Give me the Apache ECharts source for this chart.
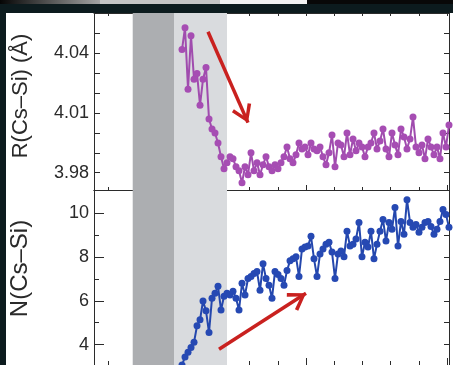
<!DOCTYPE html>
<html>
<head>
<meta charset="utf-8">
<script src="https://cdn.jsdelivr.net/npm/echarts@6/dist/echarts.min.js"></script>
<style>
  html, body { margin: 0; padding: 0; background: #ffffff; }
  #chart { width: 453px; height: 365px; }
</style>
</head>
<body>
<div id="chart"></div>
<script>
// Sampling positions along the horizontal axis (one sample per step)
const sampleStart = 5.603;
const sampleStep = 0.10638;

// Cs–Si distance R (Å)
const rValues = [
  4.042, 4.053, 4.022, 4.049, 4.027, 4.030, 4.014, 4.027, 4.033, 4.007,
  4.002, 4.000, 3.995, 3.988, 3.982, 3.985, 3.988, 3.987, 3.983, 3.981,
  3.975, 3.983, 3.979, 3.990, 3.981, 3.985, 3.979, 3.984, 3.988, 3.983,
  3.981, 3.984, 3.982, 3.985, 3.988, 3.993, 3.987, 3.985, 3.989, 3.995,
  3.992, 3.993, 3.989, 3.995, 3.992, 3.991, 3.993, 3.988, 3.984, 3.990,
  3.999, 3.983, 3.995, 3.994, 3.988, 4.000, 3.989, 3.997, 3.991, 3.995,
  3.993, 3.988, 3.993, 3.995, 4.000, 3.992, 3.996, 4.002, 3.992, 3.988,
  4.000, 3.994, 3.989, 4.002, 3.998, 3.992, 3.997, 4.008, 3.993, 3.990,
  3.994, 3.987, 3.997, 3.993, 3.989, 3.993, 3.987, 4.000, 3.993, 4.004
];

// Cs–Si coordination number N
const nValues = [
  3.07, 3.43, 3.65, 3.87, 4.10, 4.86, 5.13, 5.99, 5.54, 4.55,
  6.12, 6.35, 6.66, 5.58, 6.21, 6.35, 6.26, 6.44, 6.12, 5.58,
  6.80, 6.26, 7.02, 7.11, 7.25, 7.34, 6.48, 7.69, 7.02, 6.71,
  6.12, 7.34, 7.20, 7.02, 6.71, 7.38, 7.83, 7.92, 8.01, 7.11,
  8.37, 8.46, 8.50, 8.95, 7.92, 7.11, 8.14, 8.37, 8.59, 8.68,
  8.23, 7.02, 8.14, 8.28, 8.01, 9.18, 8.50, 8.59, 8.82, 9.58,
  8.01, 8.68, 8.46, 9.18, 7.92, 8.59, 9.18, 9.72, 8.73, 9.58,
  9.27, 10.26, 8.50, 9.63, 9.04, 10.62, 9.58, 9.36, 9.49, 9.13,
  9.36, 9.58, 9.63, 9.40, 9.04, 9.27, 9.63, 10.17, 9.94, 9.36
];

// Tick positions and labels
const xMinorTicks = [3, 4, 5, 6, 7, 8, 9, 10, 11, 12, 13, 14, 15];
const xMajorTicks = [5, 10, 15];
const rTickLabels = [3.98, 4.01, 4.04];
const rTicks = [3.98, 3.99, 4.00, 4.01, 4.02, 4.03, 4.04, 4.05];
const nTickLabels = [4, 6, 8, 10];
const nMinorTicks = [5, 7, 9];
const nRightTicks = [4, 5, 6, 7, 8, 9, 10];

// Shaded intervals: [start, end, colour]
const shadedBands = [
  [3.855, 5.319, '#acaeb1'],
  [5.319, 7.199, '#d9dbde']
];

// Trend arrows: [[x0, y0], [x1, y1]] in data units
const rArrow = [[6.525, 4.051], [7.943, 4.0052]];
const nArrow = [[6.915, 3.784], [10.0, 6.346]];

const X_MIN = 2.482, X_MAX = 15.071;
const R_MIN = 3.9713, R_MAX = 4.0604;
const N_MIN = 3.065, N_MAX = 11.065;

const toPairs = vals => vals.map((v, i) => [sampleStart + i * sampleStep, v]);

const frame = '#2b2b2b';
const textColor = '#2a2a2a';
const labelFont = 'Liberation Sans';
const arrowColor = '#c9211f';
// open chevron head, tip at the centre of its box
const chevron = 'path://M0,-18L0,-18ZM0,0L10.5,16L7.5,18L0,6L-7.5,18L-10.5,16Z';

function xAxisDef(gridIndex, position, ticks, len, showLine) {
  return {
    type: 'value', gridIndex, position, min: X_MIN, max: X_MAX,
    axisLine: { show: showLine, lineStyle: { color: frame, width: 1 } },
    axisTick: { show: ticks.length > 0, inside: true, length: len,
      customValues: ticks, lineStyle: { color: frame, width: 1 } },
    axisLabel: { show: false },
    splitLine: { show: false }
  };
}

function yTicksAxis(gridIndex, position, min, max, ticks, len) {
  return {
    type: 'value', gridIndex, position, min, max,
    axisLine: { show: true, lineStyle: { color: frame, width: 1 } },
    axisTick: { show: true, inside: true, length: len, customValues: ticks,
      lineStyle: { color: frame, width: 1 } },
    axisLabel: { show: false },
    splitLine: { show: false }
  };
}

function bandSeries(xi, yi) {
  return {
    type: 'line', xAxisIndex: xi, yAxisIndex: yi, data: [], z: 1, silent: true,
    markArea: {
      silent: true,
      label: { show: false },
      data: shadedBands.map(b => [
        { xAxis: b[0], itemStyle: { color: b[2] } },
        { xAxis: b[1] }
      ])
    }
  };
}

function arrowLine(a) {
  return {
    silent: true,
    symbol: ['none', chevron],
    symbolSize: [21, 36],
    label: { show: false },
    lineStyle: { color: arrowColor, width: 3.5, type: 'solid' },
    data: [[{ coord: a[0] }, { coord: a[1] }]]
  };
}

const chart = echarts.init(document.getElementById('chart'), null, { renderer: 'canvas' });

chart.setOption({
  animation: false,
  backgroundColor: '#ffffff',
  graphic: [
    { type: 'rect', shape: { x: 0, y: 0, width: 453, height: 13 }, style: { fill: '#0c1b1e' }, silent: true },
    { type: 'rect', shape: { x: 0, y: 0, width: 100, height: 4 }, silent: true,
      style: { fill: new echarts.graphic.LinearGradient(0, 0, 1, 0, [
        { offset: 0, color: '#050505' }, { offset: 1, color: '#a4a4a4' }]) } },
    { type: 'rect', shape: { x: 100, y: 0, width: 120, height: 4 }, style: { fill: '#c4c4c4' }, silent: true },
    { type: 'rect', shape: { x: 220, y: 0, width: 87, height: 4 }, style: { fill: '#f2f2f2' }, silent: true },
    { type: 'rect', shape: { x: 307, y: 0, width: 146, height: 4 }, style: { fill: '#080808' }, silent: true },
    { type: 'rect', shape: { x: 0, y: 13, width: 6, height: 352 }, style: { fill: '#0c1b1e' }, silent: true }
  ],
  grid: [
    { left: 94, top: 13, width: 355, height: 177 },
    { left: 94, top: 190, width: 355, height: 178 }
  ],
  xAxis: [
    xAxisDef(0, 'bottom', xMinorTicks, 3, true),
    xAxisDef(0, 'bottom', xMajorTicks, 5, false),
    xAxisDef(0, 'top', xMinorTicks, 3, true),
    xAxisDef(1, 'bottom', xMinorTicks, 4, true),
    xAxisDef(1, 'bottom', xMajorTicks, 7, false),
    xAxisDef(1, 'top', [], 0, true)
  ],
  yAxis: [
    {
      type: 'value', gridIndex: 0, position: 'left', min: R_MIN, max: R_MAX,
      name: 'R(Cs–Si) (Å)', nameLocation: 'middle', nameRotate: 90, nameGap: 62,
      nameTextStyle: { fontFamily: labelFont, fontSize: 22, color: textColor, padding: [0, 0, 0, 11] },
      axisLine: { show: true, lineStyle: { color: frame, width: 1 } },
      axisTick: { show: true, inside: true, length: 6, customValues: rTicks,
        lineStyle: { color: frame, width: 1 } },
      axisLabel: { show: true, customValues: rTickLabels, margin: 5,
        fontFamily: labelFont, fontSize: 18, color: textColor,
        formatter: v => v.toFixed(2) },
      splitLine: { show: false }
    },
    yTicksAxis(0, 'right', R_MIN, R_MAX, rTicks, 5),
    {
      type: 'value', gridIndex: 1, position: 'left', min: N_MIN, max: N_MAX,
      name: 'N(Cs–Si)', nameLocation: 'middle', nameRotate: 90, nameGap: 62,
      nameTextStyle: { fontFamily: labelFont, fontSize: 24, color: textColor, padding: [0, 0, 0, 18] },
      axisLine: { show: true, lineStyle: { color: frame, width: 1 } },
      axisTick: { show: true, inside: true, length: 10, customValues: nTickLabels,
        lineStyle: { color: frame, width: 1 } },
      axisLabel: { show: true, customValues: nTickLabels, margin: 5,
        fontFamily: labelFont, fontSize: 18, color: textColor,
        formatter: v => String(v) },
      splitLine: { show: false }
    },
    yTicksAxis(1, 'left', N_MIN, N_MAX, nMinorTicks, 5),
    yTicksAxis(1, 'right', N_MIN, N_MAX, nRightTicks, 5)
  ],
  series: [
    bandSeries(0, 0),
    bandSeries(3, 2),
    {
      name: 'R(Cs–Si)', type: 'line', xAxisIndex: 0, yAxisIndex: 0, z: 3,
      data: toPairs(rValues), clip: true,
      symbol: 'circle', symbolSize: 7, showSymbol: true,
      itemStyle: { color: '#a64db3' },
      lineStyle: { color: '#a04cae', width: 2 },
      markLine: arrowLine(rArrow)
    },
    {
      name: 'N(Cs–Si)', type: 'line', xAxisIndex: 3, yAxisIndex: 2, z: 3,
      data: toPairs(nValues), clip: true,
      symbol: 'circle', symbolSize: 7, showSymbol: true,
      itemStyle: { color: '#2649b3' },
      lineStyle: { color: '#2447ad', width: 2 },
      markLine: arrowLine(nArrow)
    }
  ]
});
</script>
</body>
</html>
